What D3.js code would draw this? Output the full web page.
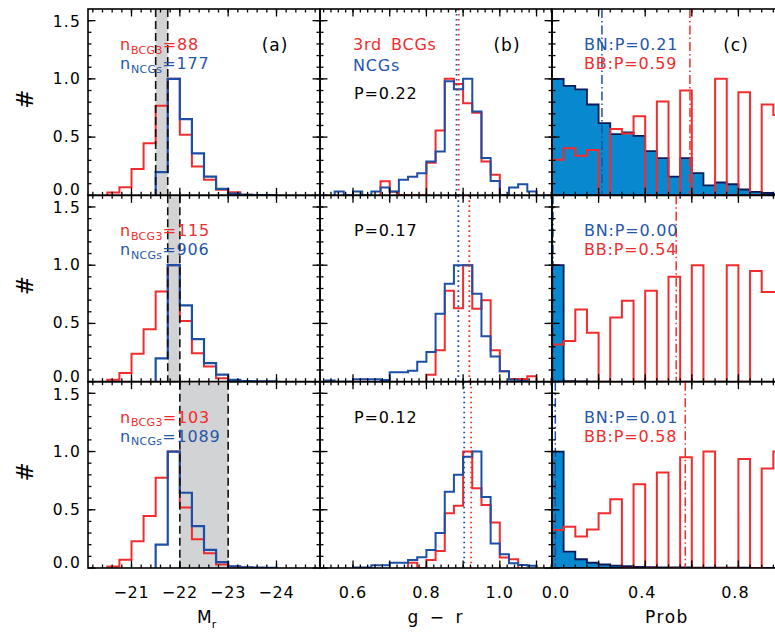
<!DOCTYPE html>
<html><head><meta charset="utf-8">
<script src="https://cdn.jsdelivr.net/npm/d3@7"></script>
<style>
body{margin:0;background:#fff;}
svg{display:block;}
text{font-family:"DejaVu Sans",sans-serif;}
</style>
</head><body>
<svg id="c" width="775" height="634"></svg>
<script>
// ---------------- DATA ----------------
const nBCG3 = [88, 115, 103];
const nNCGs = [177, 906, 1089];
const pColour = ["0.22", "0.17", "0.12"];
const pBN = ["0.21", "0.00", "0.01"];
const pBB = ["0.59", "0.54", "0.58"];
const magBands = [[-21.5, -21.75], [-21.75, -22], [-22, -23]];
const grMedNCG = [0.882, 0.887, 0.903];
const grMedBCG3 = [0.888, 0.917, 0.922];
const probLineBN = [0.21, 0.0, 0.01];
const probLineBB = [0.592, 0.533, 0.572];

const mrTicks = [-21, -22, -23, -24];
const grTickLabels = [0.6, 0.8, 1.0];
const probTickLabels = [0.0, 0.4, 0.8];
const yTickLabels = [0, 0.5, 1.0, 1.5];

// Mr histograms (bin lower edges, width 0.25 mag toward brighter)
const mrBins = [-20.5,-20.75,-21,-21.25,-21.5,-21.75,-22,-22.25,-22.5,-22.75,-23,-23.25,-23.5,-23.75];
const mrRed = [
  [0.024,0.07,0.227,0.448,0.77,1.0,0.52,0.247,0.133,0.047,0.027,0.005,0,0],
  [0.017,0.075,0.24,0.45,0.775,1.0,0.52,0.245,0.13,0.03,0.012,0.005,0,0],
  [0.012,0.07,0.23,0.446,0.775,1.0,0.52,0.246,0.126,0.03,0.012,0.005,0,0]
];
const mrBlue = [
  [0,0,0,0,0.2,1.0,0.655,0.36,0.16,0.055,0.015,0.005,0.003,0.002],
  [0,0,0,0,0.2,1.0,0.655,0.365,0.16,0.06,0.015,0.005,0.003,0.002],
  [0,0,0,0,0.2,1.0,0.646,0.36,0.155,0.05,0.015,0.005,0.003,0.002]
];

// g-r histograms (bin width 0.025)
const grBins = [0.525,0.55,0.575,0.6,0.625,0.65,0.675,0.7,0.725,0.75,0.775,0.8,0.825,0.85,0.875,0.9,0.925,0.95,0.975,1.0,1.025,1.05,1.075,1.1];
const grBlue = [
  [0,0.033,0,0.033,0,0.033,0.067,0.033,0.133,0.16,0.19,0.29,0.376,0.98,0.91,1.0,0.72,0.32,0.124,0,0.067,0.096,0.033,0],
  [0.011,0,0,0.02,0.02,0.02,0.015,0.08,0.08,0.094,0.17,0.255,0.584,0.84,1.0,1.0,0.755,0.39,0.217,0.09,0.017,0.005,0,0],
  [0,0,0,0.005,0.005,0.023,0.023,0.046,0.046,0.069,0.092,0.155,0.30,0.655,0.80,0.955,1.0,0.61,0.21,0.117,0.04,0.026,0.02,0]
];
const grRed = [
  [0,0,0,0,0,0,0.12,0.03,0,0,0,0.28,0.556,1.0,0.955,0.79,0.71,0.29,0.176,0,0,0,0,0],
  [0,0,0,0,0,0,0,0,0,0,0,0.06,0.27,0.78,0.63,1.0,0.627,0.70,0.27,0.09,0.023,0.023,0.046,0],
  [0,0,0,0,0,0,0,0,0,0.046,0,0.069,0.146,0.47,0.535,1.0,0.684,0.54,0.39,0.09,0.075,0,0,0]
];

// Probability histograms (bin width 0.05)
const probBins = [0,0.05,0.1,0.15,0.2,0.25,0.3,0.35,0.4,0.45,0.5,0.55,0.6,0.65,0.7,0.75,0.8,0.85,0.9,0.95];
const probBlue = [
  [1.0,0.94,0.91,0.78,0.62,0.525,0.54,0.51,0.38,0.32,0.16,0.32,0.19,0.085,0.11,0.095,0.05,0.03,0.02,0.01],
  [1.0,0.004,0.002,0.001,0,0,0,0,0,0,0,0,0,0,0,0,0,0,0,0],
  [1.0,0.14,0.075,0.045,0.03,0.02,0.015,0.01,0.008,0.006,0.005,0.004,0.003,0.003,0.002,0.002,0.002,0.001,0.001,0.001]
];
const probRed = [
  [0.305,0.405,0.34,0.39,0,0.57,0.53,0.68,0,0.805,0,0.90,0,0,1.0,0,0.885,0,0.78,0.69],
  [0.32,0.35,0.62,0.42,0,0.55,0.695,0,0.78,0,0.90,0,1.0,0,0,1.0,0,0.95,0.77,0.77],
  [0.326,0.355,0.27,0.33,0.47,0.59,0,0.72,0,0.82,0,0.95,0,1.0,0,0,0.935,0,0.855,1.0]
];

// ---------------- STYLE / LAYOUT ----------------
const RED = "#f22c2c", BLUE = "#1e4fa6", BLUETXT = "#2557a8", FILL = "#0788cf", NAVY = "#0b1a5a", GREY = "#d2d3d5";
const rowTop0 = 9, rowH = 186.33;
const svg = d3.select("#c");

const xA = d3.scaleLinear().domain([-20.1, -24.9]).range([88, 320]);
const xB = d3.scaleLinear().domain([0.5101, 1.1422]).range([320, 552]);
const xC = d3.scaleLinear().domain([0, 1]).range([552, 785]);

function range(a, b, s) { const out = []; for (let v = a; v <= b + 1e-9; v += s) out.push(+v.toFixed(4)); return out; }

const xTickSpec = [
  {x: xA, major: mrTicks, minor: range(20.2, 24.8, 0.2).map(v => -v)},
  {x: xB, major: range(0.6, 1.1, 0.1), minor: range(0.52, 1.14, 0.02)},
  {x: xC, major: range(0, 1, 0.2), minor: range(0, 1, 0.05)}
];
const yMajor = yTickLabels, yMinor = range(0.1, 1.5, 0.1);

function histPath(x, y, edges, w, vals) {
  let i0 = vals.findIndex(v => v > 0);
  let i1 = vals.length - 1 - [...vals].reverse().findIndex(v => v > 0);
  const pts = [[edges[i0], 0]];
  for (let i = i0; i <= i1; i++) pts.push([edges[i], vals[i]]);
  pts.push([edges[i1] + w, vals[i1]]);
  pts.push([edges[i1] + w, 0]);
  return d3.line().x(d => x(d[0])).y(d => y(d[1])).curve(d3.curveStepAfter)(pts);
}

const defs = svg.append("defs");

for (let r = 0; r < 3; r++) {
  const top = rowTop0 + r * rowH, bot = top + rowH;
  const y = d3.scaleLinear().domain([0, 1.6]).range([bot, top]);

  for (let c = 0; c < 3; c++) {
    const x = xTickSpec[c].x;
    const [x0, x1] = x.range()[0] < x.range()[1] ? x.range() : x.range().slice().reverse();
    const id = `clip${r}${c}`;
    defs.append("clipPath").attr("id", id).append("rect")
      .attr("x", x0).attr("y", top).attr("width", x1 - x0).attr("height", rowH);
    const g = svg.append("g");
    const gc = g.append("g").attr("clip-path", `url(#${id})`);

    if (c === 0) {
      const b = magBands[r];
      gc.append("rect").attr("x", x(b[0])).attr("y", top).attr("width", x(b[1]) - x(b[0])).attr("height", rowH).attr("fill", GREY);
      gc.append("path").attr("d", histPath(x, y, mrBins, -0.25, mrRed[r])).attr("fill", "none").attr("stroke", RED).attr("stroke-width", 2);
      gc.append("path").attr("d", histPath(x, y, mrBins, -0.25, mrBlue[r])).attr("fill", "none").attr("stroke", BLUE).attr("stroke-width", 2.2);
      b.forEach(v => gc.append("line").attr("x1", x(v)).attr("x2", x(v)).attr("y1", top).attr("y2", bot)
        .attr("stroke", "#111").attr("stroke-width", 1.6).attr("stroke-dasharray", "8,4"));
    } else if (c === 1) {
      gc.append("path").attr("d", histPath(x, y, grBins, 0.025, grRed[r])).attr("fill", "none").attr("stroke", RED).attr("stroke-width", 2);
      gc.append("path").attr("d", histPath(x, y, grBins, 0.025, grBlue[r])).attr("fill", "none").attr("stroke", BLUE).attr("stroke-width", 2);
      gc.append("line").attr("x1", x(grMedNCG[r])).attr("x2", x(grMedNCG[r])).attr("y1", top).attr("y2", bot)
        .attr("stroke", BLUE).attr("stroke-width", 1.8).attr("stroke-dasharray", "1.6,3.4");
      gc.append("line").attr("x1", x(grMedBCG3[r])).attr("x2", x(grMedBCG3[r])).attr("y1", top).attr("y2", bot)
        .attr("stroke", RED).attr("stroke-width", 1.8).attr("stroke-dasharray", "1.6,3.4");
    } else {
      gc.append("path").attr("d", histPath(x, y, probBins, 0.05, probBlue[r]) + "Z").attr("fill", FILL).attr("stroke", NAVY).attr("stroke-width", 1.8);
      gc.append("path").attr("d", histPath(x, y, probBins, 0.05, probRed[r])).attr("fill", "none").attr("stroke", RED).attr("stroke-width", 2);
      gc.append("line").attr("x1", x(probLineBN[r]) + 1).attr("x2", x(probLineBN[r]) + 1).attr("y1", top).attr("y2", bot)
        .attr("stroke", BLUE).attr("stroke-width", 1.5).attr("stroke-dasharray", "9,3,1.5,3");
      gc.append("line").attr("x1", x(probLineBB[r])).attr("x2", x(probLineBB[r])).attr("y1", top).attr("y2", bot)
        .attr("stroke", RED).attr("stroke-width", 1.5).attr("stroke-dasharray", "9,3,1.5,3");
    }

    // frame
    g.append("rect").attr("x", x0).attr("y", top).attr("width", x1 - x0).attr("height", rowH)
      .attr("fill", "none").attr("stroke", "#000").attr("stroke-width", 1.6);
    const tk = g.append("g").attr("stroke", "#000").attr("stroke-width", 1.3);
    const spec = xTickSpec[c];
    spec.minor.forEach(v => {
      const px = x(v); if (px < x0 || px > x1) return;
      tk.append("line").attr("x1", px).attr("x2", px).attr("y1", bot).attr("y2", bot - 3.5);
      tk.append("line").attr("x1", px).attr("x2", px).attr("y1", top).attr("y2", top + 3.5);
    });
    spec.major.forEach(v => {
      const px = x(v); if (px < x0 || px > x1) return;
      tk.append("line").attr("x1", px).attr("x2", px).attr("y1", bot).attr("y2", bot - 7.5);
      tk.append("line").attr("x1", px).attr("x2", px).attr("y1", top).attr("y2", top + 7.5);
    });
    yMinor.forEach(v => {
      tk.append("line").attr("x1", x0).attr("x2", x0 + 3.5).attr("y1", y(v)).attr("y2", y(v));
      tk.append("line").attr("x1", x1).attr("x2", x1 - 3.5).attr("y1", y(v)).attr("y2", y(v));
    });
    yMajor.forEach(v => {
      tk.append("line").attr("x1", x0).attr("x2", x0 + 7.5).attr("y1", y(v)).attr("y2", y(v));
      tk.append("line").attr("x1", x1).attr("x2", x1 - 7.5).attr("y1", y(v)).attr("y2", y(v));
    });
  }

  // y tick labels
  yTickLabels.forEach(v => {
    svg.append("text").attr("x", 81).attr("y", y(v) + (v === 0 ? -5 : (v === 1.5 ? 1.5 : 0)))
      .attr("text-anchor", "end").attr("dominant-baseline", "central")
      .attr("font-size", 15.5).attr("letter-spacing", 1.2).text(v.toFixed(1));
  });
  // y title
  svg.append("text").attr("transform", `translate(33,${top + rowH / 2 - 3}) rotate(-90)`)
    .attr("text-anchor", "middle").attr("font-size", 23).text("#");

  // panel (a) texts
  const tA1 = svg.append("text").attr("x", 120).attr("y", top + 41).attr("fill", RED).attr("font-size", 16).attr("letter-spacing", 0.8);
  tA1.append("tspan").text("n");
  tA1.append("tspan").attr("font-size", 11).attr("dy", 3.5).attr("letter-spacing", 0.3).text("BCG3");
  tA1.append("tspan").attr("dy", -3.5).text("=" + nBCG3[r]);
  const tA2 = svg.append("text").attr("x", 120).attr("y", top + 60).attr("fill", BLUETXT).attr("font-size", 16).attr("letter-spacing", 0.8);
  tA2.append("tspan").text("n");
  tA2.append("tspan").attr("font-size", 11).attr("dy", 3.5).attr("letter-spacing", 0.3).text("NCGs");
  tA2.append("tspan").attr("dy", -3.5).text("=" + nNCGs[r]);

  // panel (b) texts
  if (r === 0) {
    svg.append("text").attr("x", 353).attr("y", top + 41).attr("fill", RED).attr("font-size", 16).attr("letter-spacing", 0.8).attr("word-spacing", 3).text("3rd BCGs");
    svg.append("text").attr("x", 353).attr("y", top + 62).attr("fill", BLUETXT).attr("font-size", 16).attr("letter-spacing", 0.8).text("NCGs");
  }
  svg.append("text").attr("x", 354).attr("y", top + (r === 0 ? 90 : 41)).attr("fill", "#000").attr("font-size", 16).attr("letter-spacing", 0.8).text("P=" + pColour[r]);

  // panel (c) texts
  svg.append("text").attr("x", 584).attr("y", top + 41).attr("fill", BLUETXT).attr("font-size", 16).attr("letter-spacing", 0.8).text("BN:P=" + pBN[r]);
  svg.append("text").attr("x", 584).attr("y", top + 60).attr("fill", RED).attr("font-size", 16).attr("letter-spacing", 0.8).text("BB:P=" + pBB[r]);

  if (r === 0) {
    [["(a)", 275], ["(b)", 507], ["(c)", 736]].forEach(([t, cx]) =>
      svg.append("text").attr("x", cx).attr("y", top + 42).attr("text-anchor", "middle").attr("font-size", 17).attr("letter-spacing", 1).text(t));
  }
}

// bottom tick labels
const yLab = 598;
mrTicks.forEach(v => svg.append("text").attr("x", xA(v)).attr("y", yLab).attr("text-anchor", "middle")
  .attr("font-size", 16).attr("letter-spacing", 0.8).text("\u2212" + Math.abs(v)));
grTickLabels.forEach(v => svg.append("text").attr("x", xB(v)).attr("y", yLab).attr("text-anchor", "middle")
  .attr("font-size", 16).attr("letter-spacing", 1).text(v.toFixed(1)));
probTickLabels.forEach(v => svg.append("text").attr("x", xC(v) + (v === 0 ? 4 : -3)).attr("y", yLab).attr("text-anchor", "middle")
  .attr("font-size", 16).attr("letter-spacing", 1).text(v.toFixed(1)));

// axis titles
const mt = svg.append("text").attr("x", 197).attr("y", 623).attr("font-size", 17);
mt.append("tspan").text("M");
mt.append("tspan").attr("font-size", 11).attr("dy", 5).text("r");
svg.append("text").attr("x", 435).attr("y", 623).attr("text-anchor", "middle").attr("font-size", 17)
  .attr("word-spacing", 6).text("g \u2212 r");
svg.append("text").attr("x", 667).attr("y", 623).attr("text-anchor", "middle").attr("font-size", 17)
  .attr("letter-spacing", 1.5).text("Prob");
</script>
</body></html>
